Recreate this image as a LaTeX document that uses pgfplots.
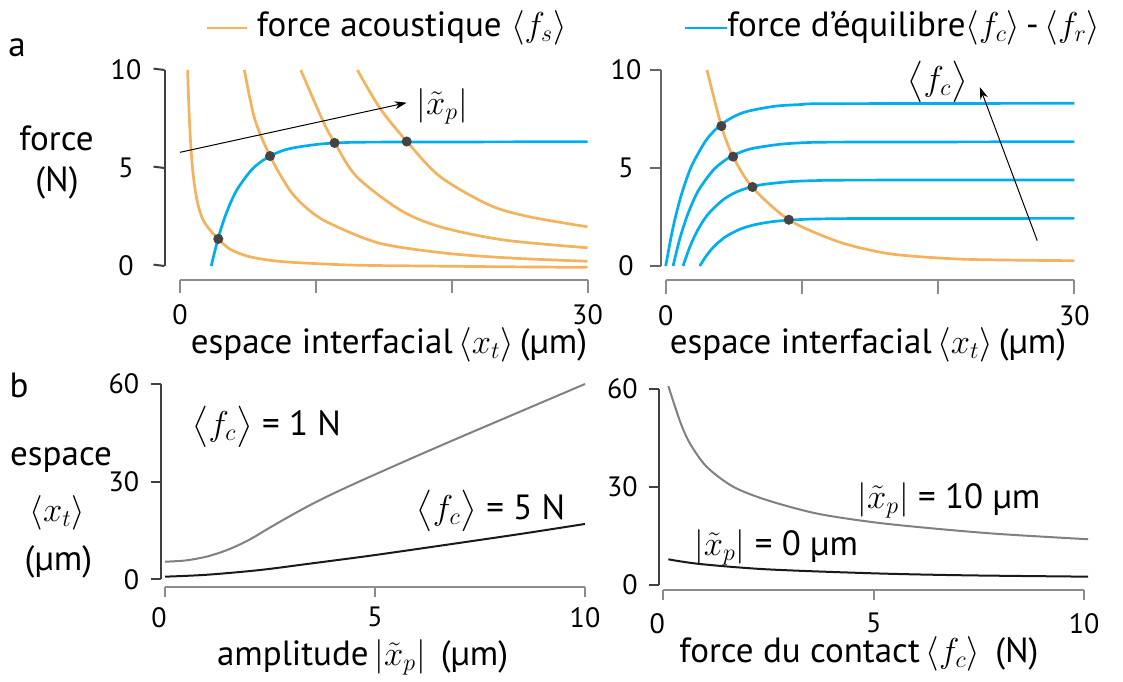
\documentclass[border=0pt]{standalone}
\usepackage{fontspec}
\setmainfont{PT Sans}
\usepackage{amsmath}
\usepackage{pgfplots}
\pgfplotsset{compat=1.18}
\usetikzlibrary{arrows.meta}
\definecolor{acou}{RGB}{244,178,92}
\definecolor{equi}{RGB}{0,174,239}
\definecolor{dotc}{RGB}{68,68,68}
\definecolor{curvegray}{RGB}{128,128,128}
\definecolor{curveblack}{RGB}{25,25,25}

\pgfplotsset{
  panel/.style={scale only axis, anchor=south west, hide axis, clip=false},
  fs/.style={acou, line width=1.35pt, smooth, no markers},
  fe/.style={equi, line width=1.35pt, smooth, no markers},
  eq/.style={only marks, mark=*, mark size=2.3pt, draw=dotc, fill=dotc},
}
\tikzset{
  xax/.style={black!45, line width=1pt},
  yax/.style={black!75, line width=1pt},
  tl/.style={inner sep=0pt, font=\fontsize{14}{16}\selectfont},
}
\newcommand{\lab}{\fontsize{17.5}{21}\selectfont}

\begin{document}
\begin{tikzpicture}
\path (0,0) rectangle (561.5pt,339.5pt);

% ---- a, left
\begin{axis}[panel, at={(90pt,206.5pt)}, width=203.75pt, height=98pt,
  xmin=0, xmax=30, ymin=0, ymax=10]
\addplot[fs] coordinates {(0.56,10) (0.66,8.0) (0.78,6.3) (0.92,5.0) (1.1,3.95) (1.35,3.05) (1.7,2.35) (2.2,1.84) (2.82,1.38) (3.68,0.86) (5.15,0.47) (7.6,0.22) (12.5,0.05) (18,0.0) (24,-0.04) (30,-0.07)};
\addplot[fs] coordinates {(4.74,10) (5.5,7.5) (6.63,5.61) (8.1,3.85) (9.5,2.85) (11.1,2.15) (14.7,1.16) (19.6,0.65) (24.5,0.40) (30,0.24)};
\addplot[fs] coordinates {(8.89,10) (10.55,7.36) (11.4,6.28) (13.0,4.56) (16.2,2.86) (19.15,2.0) (23.8,1.33) (30,0.93)};
\addplot[fs] coordinates {(13.06,10) (14.73,8.04) (16.69,6.36) (19.15,4.56) (22.8,3.1) (25.8,2.5) (30,2.0)};
\addplot[fe] coordinates {(2.3,0) (2.8,1.40) (3.3,2.49) (3.8,3.35) (4.3,4.01) (5.3,4.93) (6.3,5.48) (7.3,5.82) (8.3,6.02) (10.3,6.22) (12.3,6.30) (14.3,6.32) (30,6.34)};
\addplot[eq] coordinates {(2.82,1.38) (6.63,5.61) (11.38,6.28) (16.69,6.35)};
\draw[-{Stealth[length=6pt,width=4pt]}, line width=0.5pt] (axis cs:0,5.8) -- (axis cs:16.69,8.33);
\node at (axis cs:19.3,8.16) {\lab$|\tilde{x}_p|$};
% axes
\draw[xax] ([yshift=-7pt]axis cs:0,0) -- ([yshift=-7pt]axis cs:30,0);
\pgfplotsinvokeforeach{0,10,20,30}{\draw[xax] ([yshift=-7pt]axis cs:#1,0) -- ++(0,-7pt);}
\node[tl, anchor=north] at ([yshift=-19.25pt]axis cs:0,0) {0};
\node[tl, anchor=north] at ([yshift=-19.25pt]axis cs:30,0) {30};
\draw[yax] ([xshift=-7.75pt]axis cs:0,0) -- ([xshift=-7.75pt]axis cs:0,10);
\pgfplotsinvokeforeach{0,5,10}{\draw[yax] ([xshift=-7.75pt]axis cs:0,#1) -- ++(-5.5pt,0);
  \node[tl] at ([xshift=-27pt]axis cs:0,#1) {#1};}
\end{axis}

% ---- a, right
\begin{axis}[panel, at={(332.85pt,206.5pt)}, width=204.3pt, height=98pt,
  xmin=0, xmax=30, ymin=0, ymax=10]
\addplot[fe] coordinates {(0,0) (0.5,1.84) (1,3.27) (1.5,4.38) (2,5.25) (3,6.45) (4,7.18) (5,7.62) (6,7.89) (8,8.15) (10,8.24) (12,8.28) (30,8.30)};
\addplot[fe] coordinates {(0.54,0) (1.04,1.40) (1.54,2.49) (2.04,3.35) (2.54,4.01) (3.54,4.93) (4.54,5.48) (5.54,5.82) (6.54,6.02) (8.54,6.22) (10.54,6.30) (12.54,6.32) (30,6.34)};
\addplot[fe] coordinates {(1.27,0) (1.77,0.97) (2.27,1.73) (2.77,2.32) (3.27,2.77) (4.27,3.41) (5.27,3.80) (6.27,4.03) (7.27,4.17) (9.27,4.31) (11.27,4.36) (13.27,4.38) (30,4.39)};
\addplot[fe] coordinates {(2.5,0) (3,0.54) (3.5,0.96) (4,1.28) (4.5,1.54) (5.5,1.89) (6.5,2.10) (7.5,2.23) (8.5,2.31) (10.5,2.39) (12.5,2.41) (14.5,2.42) (30,2.43)};
\addplot[fs] coordinates {(3.03,10) (4.09,7.14) (4.95,5.58) (6.37,4.01) (9.04,2.36) (12.3,1.33) (14.75,0.85) (17.2,0.56) (22.1,0.34) (30,0.27)};
\addplot[eq] coordinates {(4.09,7.14) (4.95,5.58) (6.37,4.03) (9.04,2.36)};
\draw[-{Stealth[length=6pt,width=4pt]}, line width=0.5pt] (axis cs:27.28,1.29) -- (axis cs:23.07,9.12);
\node at (axis cs:19.96,9.4) {\lab$\big\langle f_c\big\rangle$};
% axes
\draw[xax] ([yshift=-7pt]axis cs:0,0) -- ([yshift=-7pt]axis cs:30,0);
\pgfplotsinvokeforeach{0,10,20,30}{\draw[xax] ([yshift=-7pt]axis cs:#1,0) -- ++(0,-7pt);}
\node[tl, anchor=north] at ([yshift=-19.5pt]axis cs:0,0) {0};
\node[tl, anchor=north] at ([yshift=-19.5pt]axis cs:30,0) {30};
\draw[black!60, line width=1pt] ([xshift=-2.35pt]axis cs:0,0) -- ([xshift=-2.35pt]axis cs:0,10);
\pgfplotsinvokeforeach{0,5,10}{\draw[black!60, line width=1pt] ([xshift=-2.35pt]axis cs:0,#1) -- ++(-5.5pt,0);
  \node[tl] at ([xshift=-19.85pt]axis cs:0,#1) {#1};}
\end{axis}

% ---- b, left
\begin{axis}[panel, at={(82.5pt,49.85pt)}, width=210pt, height=97.65pt,
  xmin=0, xmax=10, ymin=0, ymax=60]
\addplot[curvegray, line width=1pt, smooth] coordinates {(0,5.4) (0.5,5.8) (1,7.0) (1.5,9.1) (2,12.1) (2.5,15.9) (3,19.6) (3.5,23.1) (4,26.3) (4.5,29.3) (5,32.2) (6,37.9) (7,43.5) (8,49.0) (9,54.5) (10,60)};
\addplot[curveblack, line width=1pt, smooth] coordinates {(0,0.8) (1,1.4) (2.26,2.85) (3.5,4.9) (5,7.45) (7.02,11.2) (8.5,14.0) (10,17.0)};
\node at (axis cs:2.42,46.9) {\lab$\big\langle f_c\big\rangle$ = 1 N};
\node at (axis cs:7.76,21.0) {\lab$\big\langle f_c\big\rangle$ = 5 N};
% axes
\draw[xax] ([yshift=-3.7pt]axis cs:0,0) -- ([yshift=-3.7pt]axis cs:10,0);
\pgfplotsinvokeforeach{0,5,10}{\draw[xax] ([yshift=-3.7pt]axis cs:#1,0) -- ++(0,-5pt);}
\node[tl, anchor=north] at ([xshift=-3pt,yshift=-13.7pt]axis cs:0,0) {0};
\node[tl, anchor=north] at ([yshift=-13.7pt]axis cs:5,0) {5};
\node[tl, anchor=north] at ([yshift=-13.7pt]axis cs:10,0) {10};
\draw[yax] ([xshift=-2.15pt]axis cs:0,0) -- ([xshift=-2.15pt]axis cs:0,60);
\pgfplotsinvokeforeach{0,30,60}{\draw[yax] ([xshift=-2.15pt]axis cs:0,#1) -- ++(-5pt,0);
  \node[tl, anchor=east] at ([xshift=-12.75pt]axis cs:0,#1) {#1};}
\end{axis}

% ---- b, right
\begin{axis}[panel, at={(331.65pt,47pt)}, width=210.35pt, height=98pt,
  xmin=0, xmax=10, ymin=0, ymax=60]
\addplot[curvegray, line width=1pt, smooth] coordinates {(0.12,60.9) (0.40,50) (0.63,43.4) (1.03,36.2) (1.66,30.1) (2.46,26.0) (3.64,21.9) (5.0,19.2) (6.42,17.3) (8.0,15.6) (10.1,14.0)};
\addplot[curveblack, line width=1pt, smooth] coordinates {(0.12,7.86) (0.87,6.43) (2.46,4.8) (5.0,3.57) (7.2,2.96) (10.1,2.55)};
\node at (axis cs:6.79,26.0) {\lab$|\tilde{x}_p|$ = 10 µm};
\node at (axis cs:2.68,11.6) {\lab$|\tilde{x}_p|$ = 0 µm};
% axes
\draw[xax] ([yshift=-2.5pt]axis cs:0,0) -- ([yshift=-2.5pt]axis cs:10,0);
\pgfplotsinvokeforeach{0,5,10}{\draw[xax] ([yshift=-2.5pt]axis cs:#1,0) -- ++(0,-5pt);}
\node[tl, anchor=north] at ([xshift=-3pt,yshift=-14pt]axis cs:0,0) {0};
\node[tl, anchor=north] at ([yshift=-14pt]axis cs:5,0) {5};
\node[tl, anchor=north] at ([yshift=-14pt]axis cs:10,0) {10};
\draw[yax] ([xshift=-2pt]axis cs:0,0) -- ([xshift=-2pt]axis cs:0,60);
\pgfplotsinvokeforeach{0,30,60}{\draw[yax] ([xshift=-2pt]axis cs:0,#1) -- ++(-5pt,0);
  \node[tl, anchor=east] at ([xshift=-12.65pt]axis cs:0,#1) {#1};}
\end{axis}

% ---- legend and labels
\draw[acou, line width=1.35pt] (103.3pt,325.5pt) -- (123.4pt,325.5pt);
\node[anchor=west, inner sep=0pt] at (128.2pt,325.5pt) {\lab force acoustique $\langle f_s\rangle$};
\draw[equi, line width=1.35pt] (342.5pt,325.5pt) -- (363.5pt,325.5pt);
\node[anchor=west, inner sep=0pt] at (363.5pt,325.5pt) {\lab force d’équilibre$\langle f_c\rangle$\,-\,$\langle f_r\rangle$};
\node at (8.5pt,315.5pt) {\lab a};
\node at (9.5pt,147pt) {\lab b};
\node at (28.25pt,270.5pt) {\lab force};
\node at (28.5pt,248pt) {\lab (N)};
\node at (194.5pt,167pt) {\lab espace interfacial$\,\langle x_t\rangle\,$(µm)};
\node at (434pt,167pt) {\lab espace interfacial$\,\langle x_t\rangle\,$(µm)};
\node at (30.5pt,109.5pt) {\lab espace};
\node at (28.7pt,83pt) {\lab$\langle x_t\rangle$};
\node at (29.2pt,58.7pt) {\lab (µm)};
\node at (181.3pt,11pt) {\lab amplitude$\,|\tilde{x}_p|\,$ (µm)};
\node at (429.5pt,12.8pt) {\lab force du contact$\,\langle f_c\rangle\,$ (N)};
\end{tikzpicture}
\end{document}
